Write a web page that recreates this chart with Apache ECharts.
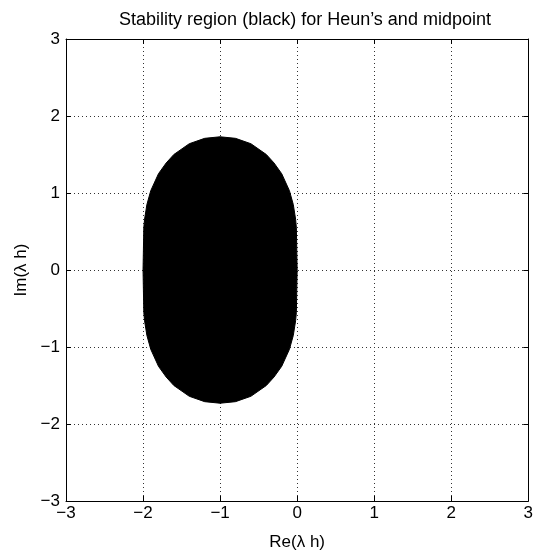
<!DOCTYPE html>
<html>
<head>
<meta charset="utf-8">
<script src="https://cdn.jsdelivr.net/npm/echarts@6/dist/echarts.min.js"></script>
<style>html,body{margin:0;padding:0;background:#fff}#c{width:536px;height:556px}</style>
</head>
<body>
<div id="c"></div>
<script>
// Axis ticks
var xTicks = [-3, -2, -1, 0, 1, 2, 3];
var yTicks = [-3, -2, -1, 0, 1, 2, 3];
// Boundary of the stability region (upper half, left to right)
var boundaryRe = [-2.00, -1.99, -1.98, -1.95, -1.90, -1.80, -1.70, -1.60, -1.40, -1.20, -1.00, -0.80, -0.60, -0.40, -0.30, -0.20, -0.10, -0.05, -0.02, -0.01, 0.00];
var boundaryImUpper = [0.00, 0.55, 0.66, 0.85, 1.03, 1.25, 1.39, 1.50, 1.64, 1.71, 1.73, 1.71, 1.64, 1.50, 1.39, 1.25, 1.03, 0.85, 0.66, 0.55, 0.00];
var boundaryImLower = [0.00, -0.55, -0.66, -0.85, -1.03, -1.25, -1.39, -1.50, -1.64, -1.71, -1.73, -1.71, -1.64, -1.50, -1.39, -1.25, -1.03, -0.85, -0.66, -0.55, 0.00];

var FONT = '"Liberation Sans", Arial, Helvetica, sans-serif';
function fmt(v) { return String(v).replace('-', '\u2212'); }

var chart = echarts.init(document.getElementById('c'), null, {renderer: 'canvas'});

var axisCommon = {
  type: 'value', min: -3, max: 3, interval: 1,
  axisLine: {show: true, onZero: false, lineStyle: {color: '#000', width: 1}},
  axisTick: {show: true, inside: true, length: 5, lineStyle: {color: '#000'}}
};

var option = {
  backgroundColor: '#fff',
  animation: false,
  title: {
    text: 'Stability region (black) for Heun\u2019s and midpoint',
    left: 300, top: 6, textAlign: 'center',
    textStyle: {fontFamily: FONT, fontSize: 18, fontWeight: 'normal', color: '#000'}
  },
  grid: {left: 66, top: 39, width: 464, height: 463, containLabel: false, show: false},
  xAxis: [
    Object.assign({}, axisCommon, {
      position: 'bottom',
      name: 'Re(\u03bb h)', nameLocation: 'middle', nameGap: 33,
      nameTextStyle: {fontFamily: FONT, fontSize: 17, color: '#000'},
      axisLabel: {fontFamily: FONT, fontSize: 17, color: '#000', margin: 4, formatter: fmt},
      splitLine: {show: true, lineStyle: {type: [1, 3], color: '#333', width: 1}}
    }),
    Object.assign({}, axisCommon, {
      position: 'top', axisLabel: {show: false}, splitLine: {show: false}
    })
  ],
  yAxis: [
    Object.assign({}, axisCommon, {
      position: 'left',
      name: 'Im(\u03bb h)', nameLocation: 'middle', nameGap: 36,
      nameTextStyle: {fontFamily: FONT, fontSize: 17, color: '#000'},
      axisLabel: {fontFamily: FONT, fontSize: 17, color: '#000', margin: 6, formatter: fmt},
      splitLine: {show: true, lineStyle: {type: [1, 3], color: '#333', width: 1}}
    }),
    Object.assign({}, axisCommon, {
      position: 'right', axisLabel: {show: false}, splitLine: {show: false}
    })
  ],
  series: [{
    type: 'custom',
    xAxisIndex: 0, yAxisIndex: 0,
    z: 5,
    data: [[0, 0]],
    renderItem: function (params, api) {
      var pts = [];
      for (var i = 0; i < boundaryRe.length; i++) {
        pts.push(api.coord([boundaryRe[i], boundaryImUpper[i]]));
      }
      for (var j = boundaryRe.length - 1; j >= 0; j--) {
        pts.push(api.coord([boundaryRe[j], boundaryImLower[j]]));
      }
      return {type: 'polygon', shape: {points: pts}, style: {fill: '#000', stroke: '#000', lineWidth: 1}};
    }
  }]
};
chart.setOption(option);
</script>
</body>
</html>
